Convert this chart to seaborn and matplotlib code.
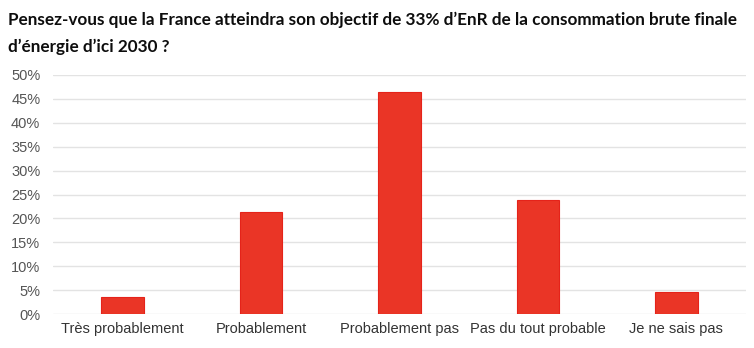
import matplotlib
matplotlib.use("Agg")
import matplotlib.pyplot as plt
import seaborn as sns
import pandas as pd
from matplotlib.ticker import FuncFormatter, MultipleLocator

categories = ["Très probablement", "Probablement", "Probablement pas",
              "Pas du tout probable", "Je ne sais pas"]
shares = [3.5, 21.4, 46.4, 23.8, 4.7]

title_lines = ["Pensez-vous que la France atteindra son objectif de 33% d\u2019EnR de la consommation brute finale",
               "d\u2019énergie d\u2019ici 2030 ?"]

df = pd.DataFrame({"reponse": categories, "part": shares})

sns.set_theme(style="white")
plt.rcParams["font.family"] = ["Liberation Sans", "DejaVu Sans"]

fig = plt.figure(figsize=(7.54, 3.48), dpi=100)
ax = fig.add_axes([53.5 / 754, 1 - 314 / 348, 692 / 754, 239 / 348])

sns.barplot(data=df, x="reponse", y="part", ax=ax, width=0.307,
            color="#EA3526", edgecolor="#E5231A", linewidth=0.8,
            saturation=1, zorder=3)

ax.set_ylim(0, 50)
ax.yaxis.set_major_locator(MultipleLocator(5))
ax.yaxis.set_major_formatter(FuncFormatter(lambda v, _: f"{v:.0f}%"))
ax.grid(axis="y", color="#E3E3E3", linewidth=1.0, zorder=0)
ax.grid(axis="x", visible=False)
for s in ax.spines.values():
    s.set_visible(False)
ax.set_xlabel("")
ax.set_ylabel("")
ax.tick_params(axis="y", labelsize=10.5, colors="#555555", length=0, pad=9.5)
ax.tick_params(axis="x", labelsize=10.5, colors="#333333", length=0, pad=6)

# Title: fit the first line to its intended width with a compact bold face
title_family = ["Lato", "DejaVu Sans"]
renderer = fig.canvas.get_renderer()
probe = fig.text(0, 0, title_lines[0], fontsize=12, fontweight="bold",
                 family=title_family)
w = probe.get_window_extent(renderer).width
probe.remove()
title_size = 12 * 722 / w

fig.text(8 / 754, 1 - 25 / 348, title_lines[0], ha="left", va="baseline",
         fontsize=title_size, fontweight="bold", family=title_family,
         color="#0D0D0D")
fig.text(8 / 754, 1 - 52 / 348, title_lines[1], ha="left", va="baseline",
         fontsize=title_size, fontweight="bold", family=title_family,
         color="#0D0D0D")

fig.savefig("out.png", dpi=100)
